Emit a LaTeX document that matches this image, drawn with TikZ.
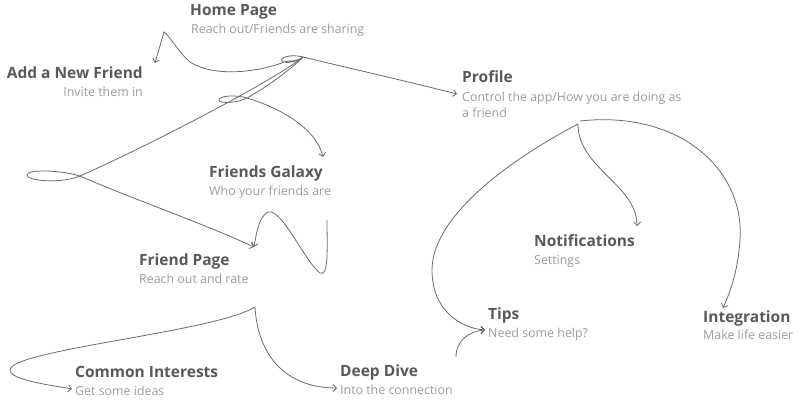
\documentclass[tikz,border=0pt]{standalone}
\usepackage{fontspec}
\setmainfont{Open Sans}
\usetikzlibrary{arrows.meta}
\definecolor{titlec}{HTML}{595959}
\definecolor{subc}{HTML}{9C9C9C}
\definecolor{linec}{HTML}{6B6B6B}
\tikzset{
  ttl/.style={anchor=base west, inner sep=0pt, text=titlec, font=\fontsize{15.5}{19}\selectfont\bfseries},
  sub/.style={anchor=base west, inner sep=0pt, text=subc, font=\fontsize{12.4}{16}\selectfont},
  conn/.style={draw=linec, line width=0.8pt, -{Straight Barb[length=3.5pt,width=7pt]}},
  plain/.style={draw=linec, line width=0.8pt}
}
\begin{document}
\begin{tikzpicture}[x=1pt,y=-1pt]
\useasboundingbox (0,0) rectangle (808,418);
% nodes
\node[ttl] (hp) at (190,15) {Home Page};
\node[sub] (hps) at (191,33) {Reach out/Friends are sharing};
\node[ttl,anchor=base east] (add) at (143,78) {Add a New Friend};
\node[sub,anchor=base east] (adds) at (143,96) {Invite them in};
\node[ttl] (prof) at (462,82) {Profile};
\node[sub] (profs) at (462,101) {Control the app/How you are doing as};
\node[sub] (profs2) at (462,117) {a friend};
\node[ttl] (fg) at (209,177) {Friends Galaxy};
\node[sub] (fgs) at (209,195) {Who your friends are};
\node[ttl] (fp) at (139,265) {Friend Page};
\node[sub] (fps) at (139,283) {Reach out and rate};
\node[ttl] (ci) at (75,377) {Common Interests};
\node[sub] (cis) at (75,395) {Get some ideas};
\node[ttl] (dd) at (340,376) {Deep Dive};
\node[sub] (dds) at (340,394) {Into the connection};
\node[ttl] (nt) at (534,246) {Notifications};
\node[sub] (nts) at (534,264) {Settings};
\node[ttl] (tp) at (488,319) {Tips};
\node[sub] (tps) at (488,337) {Need some help?};
\node[ttl] (ig) at (703,322) {Integration};
\node[sub] (igs) at (703,339) {Make life easier};
% connector end points
\coordinate (hpo) at (303,57);
\coordinate (addin) at (155,63);
\coordinate (profin) at (457,94);
\coordinate (fgin) at (323,157);
\coordinate (fpin) at (254,247);
\coordinate (fgo) at (327,220);
\coordinate (fpo) at (255,307);
\coordinate (ciin) at (72,389);
\coordinate (ddin) at (337,388);
\coordinate (ddo) at (456,357);
\coordinate (tpin) at (485,330);
\coordinate (profo) at (578,124);
\coordinate (ntin) at (637,226);
\coordinate (igin) at (723,308);
% Home -> Add a New Friend (with loop)
\draw[conn] (hpo) .. controls (292,54) and (279,57) .. (282,61)
  .. controls (285,64) and (298,62) .. (303,57)
  .. controls (296,62) and (290,61) .. (287,61)
  .. controls (260,72) and (215,78) .. (190,62)
  .. controls (178,52) and (170,36) .. (164,32)
  -- (addin);
% Home -> Profile
\draw[conn] (hpo) .. controls (340,66) and (410,82) .. (profin);
% Home -> Friends Galaxy
\draw[conn] (hpo) .. controls (288,72) and (265,88) .. (247,98)
  .. controls (238,103) and (219,104) .. (219,100)
  .. controls (219,95) and (238,95) .. (247,98)
  .. controls (280,108) and (316,128) .. (fgin);
% Home -> Friend Page
\draw[conn] (hpo) .. controls (275,80) and (150,145) .. (80,176)
  .. controls (60,184) and (27,181) .. (27,175)
  .. controls (27,169) and (60,170) .. (80,176)
  .. controls (130,198) and (200,222) .. (fpin);
% Friends Galaxy -> Friend Page
\draw[conn] (fgo) .. controls (327,245) and (329,278) .. (320,273)
  .. controls (305,262) and (282,208) .. (268,212)
  .. controls (259,216) and (256,235) .. (fpin);
% Friend Page -> Common Interests
\draw[conn] (fpo) .. controls (215,332) and (10,350) .. (10,370)
  .. controls (10,380) and (50,385) .. (ciin);
% Friend Page -> Deep Dive
\draw[conn] (fpo) .. controls (258,360) and (290,388) .. (ddin);
% Deep Dive -> Tips
\draw[conn] (ddo) .. controls (456,340) and (470,331) .. (tpin);
% Profile -> Tips
\draw[conn] (profo) .. controls (500,165) and (432,220) .. (432,270)
  .. controls (432,310) and (460,328) .. (tpin);
% Profile -> Notifications
\draw[conn] (profo) .. controls (578,168) and (637,185) .. (ntin);
% Profile -> Integration
\draw[conn] (580,121) .. controls (680,110) and (745,170) .. (740,240)
  .. controls (738,270) and (731,290) .. (igin);
\end{tikzpicture}
\end{document}
